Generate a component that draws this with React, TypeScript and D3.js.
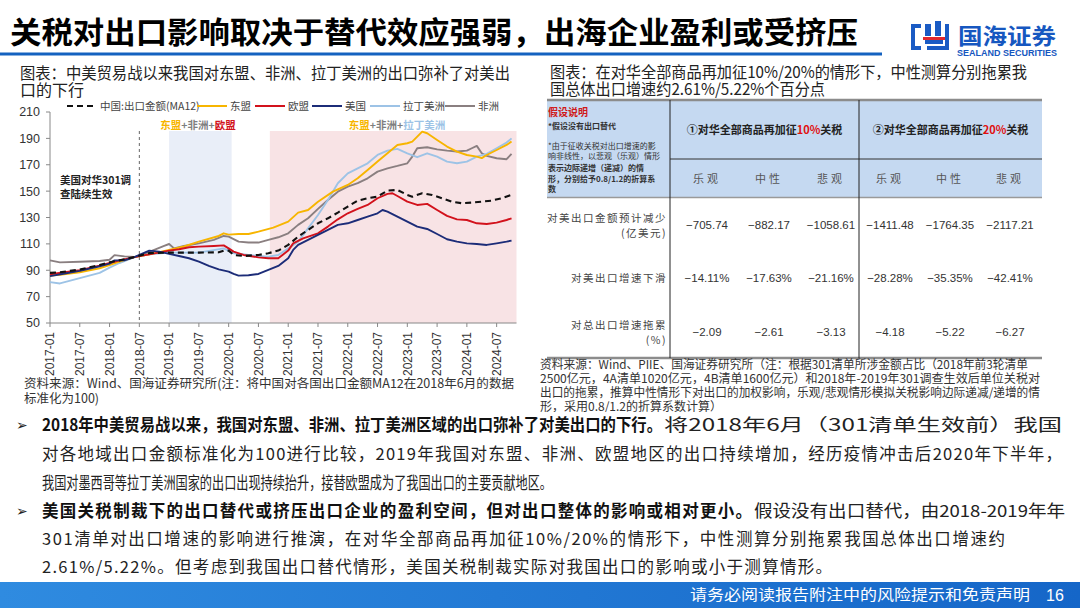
import React from "react";
import * as d3 from "d3";

// ---------- DATA ----------
const xTickLabels = ["2017-01","2017-07","2018-01","2018-07","2019-01","2019-07","2020-01","2020-07","2021-01","2021-07","2022-01","2022-07","2023-01","2023-07","2024-01","2024-07"];
const yTicks = [50, 70, 90, 110, 130, 150, 170, 190, 210];

const chinaTotal: [string, number][] = [["2017-01",88],["2017-03",88.5],["2017-07",90.5],["2017-11",94],["2018-01",96],["2018-03",97.5],["2018-06",100],["2018-09",103],["2019-01",103.4],["2019-03",103.4],["2019-07",103.4],["2019-11",103.6],["2019-12",104.9],["2020-01",104.9],["2020-02",101.6],["2020-04",100.8],["2020-07",101.6],["2020-09",102.9],["2020-11",104.9],["2021-01",109.2],["2021-03",115.5],["2021-05",120.6],["2021-07",125.6],["2021-09",129.4],["2021-11",133.7],["2022-01",138.3],["2022-03",142.8],["2022-05",144.6],["2022-07",145.8],["2022-09",150.4],["2022-11",150.9],["2023-01",147.1],["2023-02",145.8],["2023-04",148.4],["2023-06",147.1],["2023-08",144.6],["2023-10",142],["2023-12",140.8],["2024-02",141.3],["2024-04",142],["2024-06",142.8],["2024-08",144.6],["2024-10",147.1]];
const asean: [string, number][] = [["2017-01",86],["2017-03",86.5],["2017-07",88.5],["2017-11",91.5],["2018-01",94],["2018-03",96.5],["2018-06",100],["2018-09",102],["2019-01",105.5],["2019-04",108],["2019-07",111.7],["2019-11",116],["2019-12",118],["2020-01",117],["2020-03",117.5],["2020-05",117.5],["2020-07",119.3],["2020-10",122.3],["2021-01",126.9],["2021-03",133.7],["2021-05",135.7],["2021-07",142],["2021-10",149.6],["2022-01",154.7],["2022-03",159.7],["2022-05",166],["2022-07",172.4],["2022-09",178.7],["2022-11",185],["2023-01",186.3],["2023-02",187.5],["2023-04",195.1],["2023-05",193.9],["2023-07",188.8],["2023-09",183.8],["2023-11",180],["2024-01",177.4],["2024-03",176.2],["2024-04",175],["2024-05",177.4],["2024-07",181.2],["2024-09",185],["2024-10",187.6]];
const eu: [string, number][] = [["2017-01",87],["2017-04",88.5],["2017-07",90],["2017-11",93.5],["2018-01",95.5],["2018-03",97.5],["2018-06",100],["2018-09",102],["2019-01",104.9],["2019-03",105.9],["2019-05",107.4],["2019-07",107.9],["2019-10",108.4],["2019-12",108.9],["2020-01",106.6],["2020-02",104.1],["2020-04",101.6],["2020-07",99.8],["2020-09",99.1],["2020-11",99.1],["2021-01",104.9],["2021-02",110.4],["2021-04",114.2],["2021-07",118],["2021-09",123.1],["2021-11",128.6],["2022-01",133.2],["2022-03",136.5],["2022-05",139.5],["2022-07",144.6],["2022-09",147.9],["2022-10",148.4],["2022-11",146.3],["2023-01",142],["2023-03",139.5],["2023-05",140.3],["2023-07",135.7],["2023-09",131.2],["2023-11",128.6],["2024-01",128.1],["2024-03",125.6],["2024-05",125.1],["2024-07",126.1],["2024-09",128.1],["2024-10",129.4]];
const usa: [string, number][] = [["2017-01",85.5],["2017-04",87.5],["2017-07",89.5],["2017-11",93],["2018-01",95],["2018-02",97.5],["2018-04",97.5],["2018-06",100],["2018-09",104.9],["2018-11",104.1],["2019-01",102.4],["2019-03",100.8],["2019-05",99.1],["2019-07",96.5],["2019-09",93.3],["2019-11",90.7],["2020-01",89],["2020-02",87.2],["2020-03",85.9],["2020-05",86.2],["2020-07",87.2],["2020-09",90.2],["2020-11",93.3],["2021-01",99.1],["2021-02",105.4],["2021-03",109.2],["2021-05",113],["2021-07",116.8],["2021-09",120.6],["2021-11",124.4],["2022-01",125.6],["2022-03",128.1],["2022-05",130.7],["2022-07",133.2],["2022-08",135.7],["2022-09",134.5],["2022-11",130.7],["2023-01",126.9],["2023-03",123.1],["2023-05",121.3],["2023-07",117.5],["2023-09",113.5],["2023-11",111.7],["2024-01",110.4],["2024-03",109.9],["2024-05",109.2],["2024-07",110.4],["2024-09",111.7],["2024-10",112.5]];
const latam: [string, number][] = [["2017-01",81],["2017-03",80],["2017-07",84],["2017-11",88],["2018-01",92],["2018-03",95.5],["2018-06",100],["2018-09",102],["2019-01",103.4],["2019-07",103.4],["2019-12",106.6],["2020-02",102.9],["2020-05",101.6],["2020-07",100.8],["2020-09",100.3],["2020-11",101.6],["2021-01",106.6],["2021-03",111.7],["2021-05",121.8],["2021-07",131.9],["2021-09",143.3],["2021-11",156],["2022-01",163.5],["2022-03",167.3],["2022-05",171.1],["2022-07",177.4],["2022-09",180.7],["2022-11",182],["2023-01",178.7],["2023-03",175.7],["2023-05",178.7],["2023-07",176.2],["2023-09",172.4],["2023-11",171.1],["2024-01",172.4],["2024-03",176.2],["2024-05",178.2],["2024-07",182.5],["2024-09",186.8],["2024-10",190]];
const africa: [string, number][] = [["2017-01",97.5],["2017-03",96],["2017-07",96.5],["2017-11",97],["2018-01",98],["2018-02",101.5],["2018-04",100.5],["2018-06",100],["2018-07",101],["2018-10",105.4],["2018-12",108.4],["2019-01",109.9],["2019-02",106.6],["2019-04",108.4],["2019-07",110.4],["2019-10",113],["2019-12",116],["2020-01",115.5],["2020-03",111.7],["2020-05",111],["2020-07",111],["2020-09",113],["2020-11",115],["2021-01",118],["2021-03",124.4],["2021-05",129.4],["2021-07",136.5],["2021-09",143.3],["2021-11",149.6],["2022-01",153.4],["2022-03",156],["2022-05",159.7],["2022-07",164.8],["2022-09",167.3],["2022-11",169.1],["2023-01",171.1],["2023-02",176.2],["2023-03",182.5],["2023-05",183.3],["2023-07",181.7],["2023-09",180.7],["2023-11",180],["2024-01",180.7],["2024-02",182.5],["2024-03",184.3],["2024-04",178.7],["2024-05",176.7],["2024-07",174.9],["2024-09",174.2],["2024-10",178.2]];

const seriesNames = ["中国:出口金额(MA12)", "东盟", "欧盟", "美国", "拉丁美洲", "非洲"];
const blueBand = ["2019-01", "2020-01"];
const pinkBand = ["2020-09", "2024-10"];
const tariffLine = "2018-07";

// table data
const groupTitles = [["①对华全部商品再加征", "10%", "关税"], ["②对华全部商品再加征", "20%", "关税"]];
const scenarios = ["乐观", "中性", "悲观"];
const rowLabels = [["对美出口金额预计减少", "(亿美元)"], ["对美出口增速下滑"], ["对总出口增速拖累", "(%)"]];
const row1Values = [-705.74, -882.17, -1058.61, -1411.48, -1764.35, -2117.21];
const row2Values = [-14.11, -17.63, -21.16, -28.28, -35.35, -42.41];
const row3Values = [-2.09, -2.61, -3.13, -4.18, -5.22, -6.27];
const assumptionLines = ["*由于征收关税对出口增速的影", "响非线性，以悲观（乐观）情形", "表示边际递增（递减）的情", "形，分别给予0.8/1.2的折算系", "数"];

const CJK = "'Noto Sans CJK SC', 'Noto Sans', sans-serif";
const LAT = "'Liberation Sans', Arial, sans-serif";

const idx = (s: string) => {
  const [y, m] = s.split("-").map(Number);
  return (y - 2017) * 12 + (m - 1);
};

const colors = {
  china: "#111111",
  asean: "#f7b500",
  eu: "#d2121c",
  usa: "#1c2c78",
  latam: "#9dc3e6",
  africa: "#8a7f80",
};

function LineChart() {
  const x = d3.scaleLinear().domain([0, 94]).range([50, 516.5]);
  const y = d3.scaleLinear().domain([50, 210]).range([323, 112]);
  const line = d3.line<[string, number]>().x(d => x(idx(d[0]))).y(d => y(d[1]));
  const series = [
    { data: africa, color: colors.africa, dash: undefined },
    { data: latam, color: colors.latam, dash: undefined },
    { data: asean, color: colors.asean, dash: undefined },
    { data: eu, color: colors.eu, dash: undefined },
    { data: usa, color: colors.usa, dash: undefined },
    { data: chinaTotal, color: colors.china, dash: "6,4" },
  ];
  const legendColors = [colors.china, colors.asean, colors.eu, colors.usa, colors.latam, colors.africa];
  const legendX = [67, 197, 255, 312, 370, 445];
  const ticks = xTickLabels.map(idx);
  return (
    <g>
      <rect x={x(idx(blueBand[0]))} y={131} width={x(idx(blueBand[1]) + 0.6) - x(idx(blueBand[0]))} height={323 - 131} fill="#e9eef8" />
      <rect x={x(idx(pinkBand[0]) + 0.3)} y={131} width={x(94) - x(idx(pinkBand[0]) + 0.3)} height={323 - 131} fill="#f8e3e5" />
      <line x1={x(idx(tariffLine))} x2={x(idx(tariffLine))} y1={131} y2={323} stroke="#666" strokeDasharray="3,3" strokeWidth={1} />
      <line x1={50} x2={50} y1={112} y2={323} stroke="#888" />
      <line x1={50} x2={x(94)} y1={323} y2={323} stroke="#888" />
      {yTicks.map(t => (
        <g key={t}>
          <line x1={46} x2={50} y1={y(t)} y2={y(t)} stroke="#888" />
          <text x={40} y={y(t)} dy="0.35em" textAnchor="end" fontFamily={LAT} fontSize={12.5} fill="#333">{t}</text>
        </g>
      ))}
      {ticks.map((t, i) => (
        <g key={i}>
          <line x1={x(t)} x2={x(t)} y1={323} y2={327} stroke="#888" />
          <text transform={`translate(${x(t)},332) rotate(-90)`} dy="0.35em" textAnchor="end" fontFamily={LAT} fontSize={12} fill="#333">{xTickLabels[i]}</text>
        </g>
      ))}
      {series.map((s, i) => (
        <path key={i} d={line(s.data) || ""} fill="none" stroke={s.color} strokeWidth={s.dash ? 2.1 : 1.9} strokeDasharray={s.dash} strokeLinejoin="round" />
      ))}
      <text x={198} y={129} textAnchor="middle" fontFamily={CJK} fontSize={10.5} fontWeight="bold">
        <tspan fill={colors.asean}>东盟</tspan><tspan fill="#7f7f7f">+非洲+</tspan><tspan fill={colors.eu}>欧盟</tspan>
      </text>
      <text x={397} y={129} textAnchor="middle" fontFamily={CJK} fontSize={10.5} fontWeight="bold">
        <tspan fill={colors.asean}>东盟</tspan><tspan fill="#7f7f7f">+非洲+</tspan><tspan fill={colors.latam}>拉丁美洲</tspan>
      </text>
      <text x={60} y={184} fontFamily={CJK} fontSize={10.5} fontWeight="bold" fill="#222">美国对华301调</text>
      <text x={60} y={198} fontFamily={CJK} fontSize={10.5} fontWeight="bold" fill="#222">查陆续生效</text>
      {seriesNames.map((n, i) => (
        <g key={n}>
          <line x1={legendX[i]} x2={legendX[i] + 30} y1={106} y2={106} stroke={legendColors[i]} strokeWidth={2} strokeDasharray={i === 0 ? "6,4" : undefined} />
          <text x={legendX[i] + 33} y={106} dy="0.35em" fontFamily={CJK} fontSize={10.5} fill="#444">{n}</text>
        </g>
      ))}
    </g>
  );
}

function Table() {
  const g1 = d3.scaleBand<number>().domain([0, 1, 2]).range([676, 862]);
  const g2 = d3.scaleBand<number>().domain([0, 1, 2]).range([860, 1040]);
  const colX = (i: number) => (i < 3 ? (g1(i) as number) + g1.bandwidth() / 2 : (g2(i - 3) as number) + g2.bandwidth() / 2);
  const fmt2 = d3.format(".2f");
  const rows = [
    { labelY: [218, 233], valY: 225, vals: row1Values.map(v => fmt2(v)) },
    { labelY: [278], valY: 278, vals: row2Values.map(v => fmt2(v) + "%") },
    { labelY: [325, 340], valY: 332, vals: row3Values.map(v => fmt2(v)) },
  ];
  return (
    <g>
      <rect x={547} y={100} width={1042 - 547} height={97} fill="#c5d9f1" />
      <line x1={547} x2={1042} y1={100} y2={100} stroke="#8c8c8c" strokeWidth={2.5} />
      <line x1={547} x2={1042} y1={197.5} y2={197.5} stroke="#9a9a9a" strokeWidth={1.5} />
      <line x1={547} x2={1042} y1={358} y2={358} stroke="#8c8c8c" strokeWidth={2.5} />
      <line x1={670} x2={1042} y1={159} y2={159} stroke="#333" strokeWidth={1} />
      <line x1={670} x2={670} y1={100} y2={358} stroke="#222" strokeWidth={1} />
      <line x1={859} x2={859} y1={100} y2={358} stroke="#222" strokeWidth={1} />
      <text x={548} y={116} fontFamily={CJK} fontSize={10} fontWeight="bold" fill="#d01818">假设说明</text>
      <text x={548} y={129} fontFamily={CJK} fontSize={8} fontWeight="bold" fill="#333">*假设没有出口替代</text>
      {assumptionLines.map((l, i) => (
        <text key={i} x={548} y={[149, 159, 170.5, 182, 191.5][i]} fontFamily={CJK} fontSize={8} fontWeight={i >= 2 ? "bold" : "normal"} fill="#333">{l}</text>
      ))}
      {groupTitles.map((g, i) => (
        <text key={i} x={i === 0 ? 764.5 : 950.5} y={134} textAnchor="middle" fontFamily={CJK} fontSize={11} fontWeight="bold" fill="#222">
          {g[0]}<tspan fill="#e01010">{g[1]}</tspan>{g[2]}
        </text>
      ))}
      {[0, 1, 2, 3, 4, 5].map(i => (
        <text key={i} x={colX(i)} y={183} textAnchor="middle" fontFamily={CJK} fontSize={11} fill="#555" letterSpacing={3}>{scenarios[i % 3]}</text>
      ))}
      {rows.map((r, ri) => (
        <g key={ri}>
          {rowLabels[ri].map((l, li) => (
            <text key={li} x={667} y={r.labelY[li]} dy="0.35em" textAnchor="end" fontFamily={CJK} fontSize={10.5} fill="#444" letterSpacing={1.5}>{l}</text>
          ))}
          {r.vals.map((v, vi) => (
            <text key={vi} x={colX(vi)} y={r.valY} dy="0.35em" textAnchor="middle" fontFamily={LAT} fontSize={11.5} fill="#333">{v}</text>
          ))}
        </g>
      ))}
    </g>
  );
}

function Line({ y, x, text, len, bold, adjust, size }: { y: number; x: number; text: string; len: number; bold?: boolean; adjust: string; size?: number }) {
  return (
    <text x={x} y={y} fontFamily={CJK} fontSize={size || 16.5} fontWeight={bold ? "bold" : "normal"} fill={bold ? "#111" : "#222"} textLength={len} lengthAdjust={adjust}>{text}</text>
  );
}

export default function App() {
  return (
    <svg width={1080} height={608} style={{ position: "absolute", left: 0, top: 0, background: "#fff" }}>
      <defs>
        <linearGradient id="foot" x1="0" x2="1" y1="0" y2="0">
          <stop offset="0" stopColor="#2f8be0" />
          <stop offset="1" stopColor="#1566c8" />
        </linearGradient>
        <clipPath id="srcClip"><rect x={530} y={350} width={540} height={62} /></clipPath>
      </defs>
      <rect width={1080} height={608} fill="#fff" />
      <text x={10} y={43} fontFamily={CJK} fontSize={30} fontWeight="bold" fill="#000" textLength={848} lengthAdjust="spacingAndGlyphs">关税对出口影响取决于替代效应强弱，出海企业盈利或受挤压</text>
      <line x1={0} x2={882} y1={54} y2={54} stroke="#1462c0" strokeWidth={3} />
      <g>
        <path d="M911,24 h10 v4 h-6 v18 h6 v4 h-10 z" fill="#1a5bc4" />
        <path d="M925,24 h6 v12 h-6 z M935,21 h6 v15 h-6 z M925,40 h18 v4 h-18 z" fill="#1a5bc4" />
        <rect x={923} y={37} width={24} height={3} fill="#e0282e" />
        <path d="M945,24 h4 v26 h-22 v-4 h18 z" fill="#1a5bc4" />
        <text x={958} y={44} fontFamily={CJK} fontSize={22} fontWeight="bold" fill="#1657c0" textLength={98} lengthAdjust="spacingAndGlyphs">国海证券</text>
        <text x={957} y={56} fontFamily={LAT} fontSize={8.5} fontWeight="bold" fill="#1657c0" textLength={100} lengthAdjust="spacingAndGlyphs">SEALAND SECURITIES</text>
      </g>
      <text x={20} y={79} fontFamily={CJK} fontSize={16} fill="#222" textLength={490} lengthAdjust="spacingAndGlyphs">图表：中美贸易战以来我国对东盟、非洲、拉丁美洲的出口弥补了对美出</text>
      <text x={20} y={96} fontFamily={CJK} fontSize={16} fill="#222">口的下行</text>
      <text x={550} y={78} fontFamily={CJK} fontSize={16} fill="#222" textLength={477} lengthAdjust="spacingAndGlyphs">图表：在对华全部商品再加征10%/20%的情形下，中性测算分别拖累我</text>
      <text x={550} y={95} fontFamily={CJK} fontSize={16} fill="#222" textLength={275} lengthAdjust="spacingAndGlyphs">国总体出口增速约2.61%/5.22%个百分点</text>
      <LineChart />
      <Table />
      <text x={24} y={388} fontFamily={CJK} fontSize={12.5} fill="#333" textLength={490} lengthAdjust="spacingAndGlyphs">资料来源：Wind、国海证券研究所(注：将中国对各国出口金额MA12在2018年6月的数据</text>
      <text x={24} y={403} fontFamily={CJK} fontSize={12.5} fill="#333">标准化为100)</text>
      <g clipPath="url(#srcClip)">
        <text x={540} y={369} fontFamily={CJK} fontSize={12} fill="#333" textLength={488} lengthAdjust="spacingAndGlyphs">资料来源：Wind、PIIE、国海证券研究所（注：根据301清单所涉金额占比（2018年前3轮清单</text>
        <text x={540} y={383} fontFamily={CJK} fontSize={12} fill="#333" textLength={500} lengthAdjust="spacingAndGlyphs">2500亿元，4A清单1020亿元，4B清单1600亿元）和2018年-2019年301调查生效后单位关税对</text>
        <text x={540} y={397} fontFamily={CJK} fontSize={12} fill="#333" textLength={500} lengthAdjust="spacingAndGlyphs">出口的拖累，推算中性情形下对出口的加权影响，乐观/悲观情形模拟关税影响边际递减/递增的情</text>
        <text x={540} y={411} fontFamily={CJK} fontSize={12} fill="#333">形，采用0.8/1.2的折算系数计算）</text>
      </g>
      <text x={16} y={430} fontFamily="'DejaVu Sans', sans-serif" fontSize={14} fill="#222">➢</text>
      <Line y={431} x={42} bold text="2018年中美贸易战以来，我国对东盟、非洲、拉丁美洲区域的出口弥补了对美出口的下行。" len={620} adjust="spacingAndGlyphs" />
      <Line y={431} x={664} size={17} text="将2018年6月（301清单生效前）我国" len={398} adjust="spacingAndGlyphs" />
      <Line y={460} x={42} text="对各地域出口金额标准化为100进行比较，2019年我国对东盟、非洲、欧盟地区的出口持续增加，经历疫情冲击后2020年下半年，" len={1020} adjust="spacing" />
      <Line y={489} x={42} text="我国对墨西哥等拉丁美洲国家的出口出现持续抬升，接替欧盟成为了我国出口的主要贡献地区。" len={510} adjust="spacingAndGlyphs" />
      <text x={16} y={516} fontFamily="'DejaVu Sans', sans-serif" fontSize={14} fill="#222">➢</text>
      <Line y={517} x={42} bold text="美国关税制裁下的出口替代或挤压出口企业的盈利空间，但对出口整体的影响或相对更小。" len={710} adjust="spacing" />
      <Line y={517} x={754} text="假设没有出口替代，由2018-2019年年" len={311} adjust="spacingAndGlyphs" />
      <Line y={545} x={42} text="301清单对出口增速的影响进行推演，在对华全部商品再加征10%/20%的情形下，中性测算分别拖累我国总体出口增速约" len={963} adjust="spacing" />
      <Line y={573} x={42} text="2.61%/5.22%。但考虑到我国出口替代情形，美国关税制裁实际对我国出口的影响或小于测算情形。" len={790} adjust="spacing" />
      <rect x={0} y={582} width={1080} height={26} fill="url(#foot)" />
      <text x={690} y={600} fontFamily={CJK} fontSize={15} fill="#fff" textLength={340} lengthAdjust="spacingAndGlyphs">请务必阅读报告附注中的风险提示和免责声明</text>
      <text x={1046} y={601} fontFamily={LAT} fontSize={16} fill="#fff">16</text>
    </svg>
  );
}
